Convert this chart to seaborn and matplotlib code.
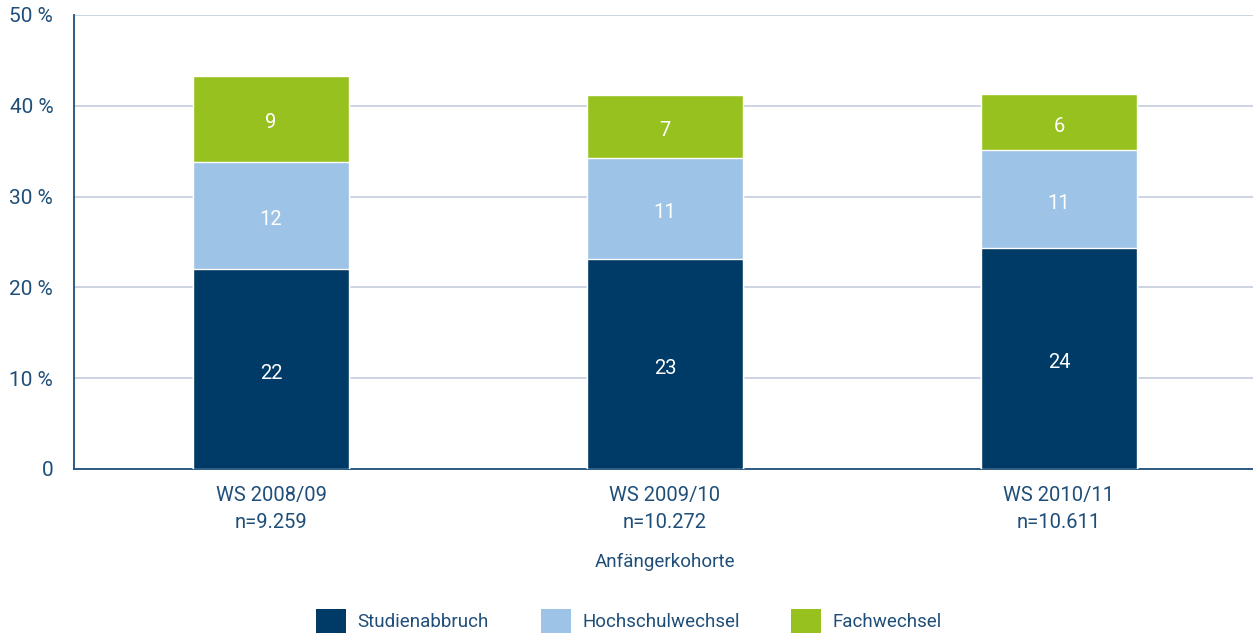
import matplotlib
matplotlib.use("Agg")
import matplotlib.pyplot as plt
import seaborn as sns
import pandas as pd
import numpy as np
from matplotlib.patches import Patch
from matplotlib import font_manager
import matplotlib.transforms as mtransforms

cohorts = ["WS 2008/09\nn=9.259", "WS 2009/10\nn=10.272", "WS 2010/11\nn=10.611"]
studienabbruch = [22.0, 23.1, 24.3]
hochschulwechsel = [11.85, 11.1, 10.8]
fachwechsel = [9.4, 7.0, 6.15]
label_abbruch = ["22", "23", "24"]
label_hochschul = ["12", "11", "11"]
label_fach = ["9", "7", "6"]
series_names = ["Studienabbruch", "Hochschulwechsel", "Fachwechsel"]
yticks = [0, 10, 20, 30, 40, 50]
ytick_labels = ["0", "10 %", "20 %", "30 %", "40 %", "50 %"]

c_dark = "#003a66"
c_light = "#9dc3e6"
c_green = "#97c11f"
c_text = "#1f4e79"
c_grid = "#c5cddd"

sns.set_theme(style="white")
plt.rcParams["font.family"] = ["Roboto", "DejaVu Sans"]
fs_word = 13.5
fs_num = 14.5
fs_tick = 15

df = pd.DataFrame({
    "cohort": cohorts,
    "a": studienabbruch,
    "h": hochschulwechsel,
    "f": fachwechsel,
})
df["ah"] = df["a"] + df["h"]
df["ahf"] = df["ah"] + df["f"]

fig = plt.figure(figsize=(12.53, 6.36), dpi=100)
ax = fig.add_axes([74 / 1253, 1 - 469 / 636, 1182 / 1253, 454 / 636])

w = 156 / 394
sns.barplot(data=df, x="cohort", y="ahf", color=c_green, width=w, ax=ax, saturation=1, zorder=3)
sns.barplot(data=df, x="cohort", y="ah", color=c_light, width=w, ax=ax, saturation=1, zorder=3)
sns.barplot(data=df, x="cohort", y="a", color=c_dark, width=w, ax=ax, saturation=1, zorder=3)

off = mtransforms.offset_copy(ax.transData, fig=fig, x=0, y=-2, units="dots")
for i in range(len(cohorts)):
    a = studienabbruch[i]; h = hochschulwechsel[i]; f = fachwechsel[i]
    for yv, lab in ((a / 2, label_abbruch[i]), (a + h / 2, label_hochschul[i]), (a + h + f / 2, label_fach[i])):
        ax.text(i, yv, lab, ha="center", va="center_baseline", color="white",
                fontsize=fs_num, zorder=4, transform=off)

ax.set_xlim(-0.5, 2.5)
ax.set_ylim(0, 50)
ax.set_yticks(yticks)
ax.set_yticklabels(ytick_labels, color=c_text, fontsize=fs_tick)
ax.yaxis.grid(True, color=c_grid, linewidth=1.2, zorder=0)
ax.tick_params(axis="y", length=5, color=c_grid, width=1.2, pad=10)

ax.set_xticks(range(len(cohorts)))
ax.set_xticklabels(cohorts, color=c_text, fontsize=fs_num, linespacing=1.55)
ax.tick_params(axis="x", which="major", length=0, pad=12)
ax.set_xticks([-0.5, 0.5, 1.5, 2.5], minor=True)
ax.tick_params(axis="x", which="minor", length=7, color=c_text, width=1.2)
ax.set_xlabel("Anfängerkohorte", color=c_text, fontsize=fs_word, labelpad=15)
ax.set_ylabel("")

for s in ["top", "right"]:
    ax.spines[s].set_visible(False)
for s in ["left", "bottom"]:
    ax.spines[s].set_color(c_text)
    ax.spines[s].set_linewidth(1.3)

handles = [Patch(facecolor=c, edgecolor="none") for c in (c_dark, c_light, c_green)]
fig.legend(handles, series_names, loc="center", bbox_to_anchor=(0.502, 1 - 621 / 636),
           ncol=3, frameon=False, fontsize=fs_word, labelcolor=c_text,
           handlelength=1.6, handleheight=1.6, handletextpad=0.62, columnspacing=2.75)

fig.savefig("out.png", dpi=100)
